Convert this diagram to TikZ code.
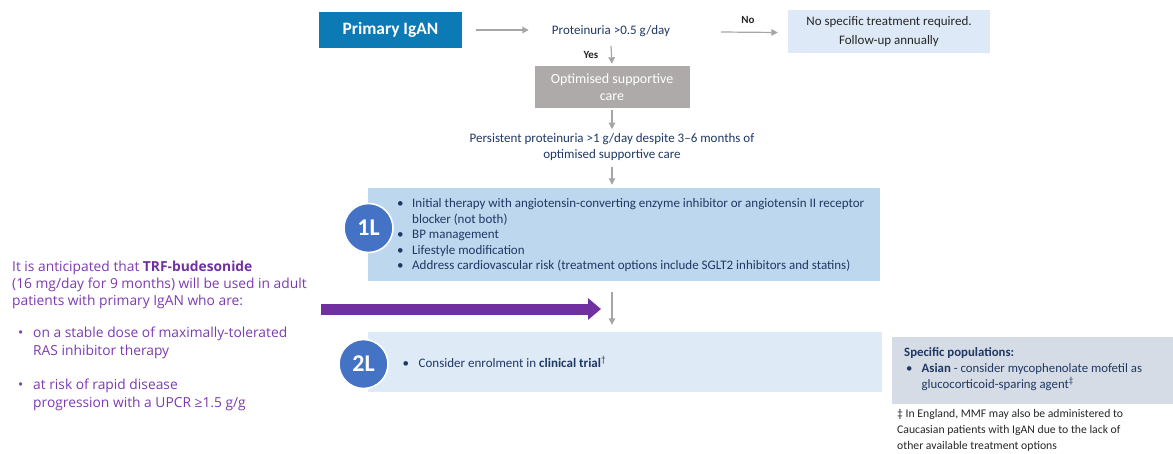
\documentclass[tikz,border=0pt]{standalone}
\usepackage{fontspec}
\setmainfont{Carlito}
\newfontfamily\leftfont{Open Sans}
\usetikzlibrary{arrows.meta,calc}
\definecolor{igan}{RGB}{12,122,180}
\definecolor{paleblue}{RGB}{221,233,246}
\definecolor{optgray}{RGB}{174,170,170}
\definecolor{onel}{RGB}{189,215,238}
\definecolor{twol}{RGB}{222,235,247}
\definecolor{circ}{RGB}{68,114,196}
\definecolor{specbg}{RGB}{214,220,229}
\definecolor{navy}{RGB}{31,56,100}
\definecolor{arrgray}{RGB}{166,166,166}
\definecolor{purp}{RGB}{112,48,160}
\definecolor{purplt}{RGB}{124,58,176}
\definecolor{dark}{RGB}{38,38,38}
\newcommand{\fsz}[2]{\fontsize{#1}{#2}\selectfont}
\tikzset{
  boxnode/.style={inner sep=0, align=center},
  txt/.style={inner sep=0, anchor=base west},
  arr/.style={draw=arrgray, line width=1.2pt, -{Triangle[length=6.5pt,width=6.5pt]}},
  bigarr/.style={draw=purp, line width=11pt, -{Triangle[length=13pt,width=21pt]}},
  badge/.style={circle, fill=circ, draw=white, line width=1.6pt, minimum size=49pt, inner sep=0, text=white, font=\bfseries\fsz{24}{26}},
  navytxt/.style={text=navy, font=\fsz{13}{15}},
  lefttxt/.style={txt, text=purplt, font=\leftfont\fsz{13.8}{16}},
  spectxt/.style={txt, text=navy, font=\fsz{12.8}{14}},
  foottxt/.style={txt, text=dark, font=\fsz{11.7}{14}},
  lbl/.style={boxnode, text=dark, font=\bfseries\fsz{11}{12}},
}
\begin{document}
\begin{tikzpicture}[x=1pt,y=-1pt]
\useasboundingbox (0,0) rectangle (1173,453);

% top row
\node[boxnode, fill=igan, minimum width=143pt, minimum height=36pt, text=white, font=\bfseries\fsz{17.4}{20}] (prim) at (390.5,30) {Primary IgAN};
\node[boxnode, text=navy, font=\fsz{13}{15}] (prot) at (611,31) {Proteinuria >0.5 g/day};
\node[boxnode, fill=paleblue, minimum width=202pt, minimum height=43pt, text=dark, font=\fsz{13}{19}] (notr) at (889,31.5) {No specific treatment required.\\Follow-up annually};
\draw[arr] ($(prim.east)+(14,0)$) -- ($(prot.west |- prim.east)+(-23,0)$);
\draw[arr] ($(prot.east)+(51,1)$) -- ($(notr.west)+(-10,1)$);
\node[lbl] (nolab) at (748,20) {No};

% optimised care
\node[boxnode, fill=optgray, minimum width=155pt, minimum height=42pt, text=white, font=\fsz{14}{16.5}] (opt) at (612,87) {Optimised supportive\\care};
\draw[arr] ($(prot.south)+(0,9)$) -- ($(opt.north)+(0,-2)$);
\node[lbl] (yeslab) at (591,55) {Yes};

\node[boxnode, text=navy, font=\fsz{13}{16}] (per) at (612,147) {Persistent proteinuria >1 g/day despite 3--6 months of\\optimised supportive care};
\draw[arr] ($(opt.south)+(0,2)$) -- ($(per.north)+(0,-4)$);

% 1L box
\node[boxnode, fill=onel, minimum width=512pt, minimum height=93pt] (b1) at (624,234.5) {};
\draw[arr] ($(per.south)+(0,6)$) -- ($(b1.north -| per)+(0,-3)$);
\node[badge] (c1) at (368.5,228) {1L};
\node[txt, navytxt] (l1a) at (397,207.5) {\makebox[15pt][l]{•}Initial therapy with angiotensin-converting enzyme inhibitor or angiotensin II receptor};
\node[txt, navytxt] (l1b) at (412,223) {blocker (not both)};
\node[txt, navytxt] (l1c) at (397,238.5) {\makebox[15pt][l]{•}BP management};
\node[txt, navytxt] (l1d) at (397,254) {\makebox[15pt][l]{•}Lifestyle modification};
\node[txt, navytxt] (l1e) at (397,269.5) {\makebox[15pt][l]{•}Address cardiovascular risk (treatment options include SGLT2 inhibitors and statins)};

% 2L box
\node[boxnode, fill=twol, minimum width=514pt, minimum height=60pt] (b2) at (625,362) {};
\draw[arr] ($(b1.south -| per)+(0,11)$) -- ($(b2.north -| per)+(0,-7)$);
\node[badge] (c2) at (363.5,364) {2L};
\node[txt, navytxt] (l2a) at (402.5,367) {\makebox[16pt][l]{•}Consider enrolment in \textbf{clinical trial}\textsuperscript{†}};

% purple arrow
\coordinate (pa) at (321,309);
\coordinate (pb) at (601,309);
\draw[bigarr] (pa) -- (pb);

% left text
\node[lefttxt] (t1) at (12,271) {It is anticipated that \textcolor{purp}{\textbf{TRF-budesonide}}};
\node[lefttxt] (t2) at (12,288) {(16 mg/day for 9 months) will be used in adult};
\node[lefttxt] (t3) at (12,305) {patients with primary IgAN who are:};
\node[lefttxt] (t4) at (18,337) {\makebox[15pt][l]{•}on a stable dose of maximally-tolerated};
\node[lefttxt] (t5) at (33,355) {RAS inhibitor therapy};
\node[lefttxt] (t6) at (18,389) {\makebox[15pt][l]{•}at risk of rapid disease};
\node[lefttxt] (t7) at (33,407) {progression with a UPCR ≥1.5 g/g};

% specific populations
\node[boxnode, fill=specbg, minimum width=281pt, minimum height=67pt] (spec) at (1032.5,370) {};
\node[spectxt] (s1) at (904,356) {\textbf{Specific populations:}};
\node[spectxt] (s2) at (906,372) {\makebox[15.5pt][l]{•}\textbf{Asian} - consider mycophenolate mofetil as};
\node[spectxt] (s3) at (921.5,388) {glucocorticoid-sparing agent\textsuperscript{‡}};
\node[foottxt] (f1) at (897,417) {‡ In England, MMF may also be administered to};
\node[foottxt] (f2) at (897,433) {Caucasian patients with IgAN due to the lack of};
\node[foottxt] (f3) at (897,449) {other available treatment options};
\end{tikzpicture}
\end{document}
